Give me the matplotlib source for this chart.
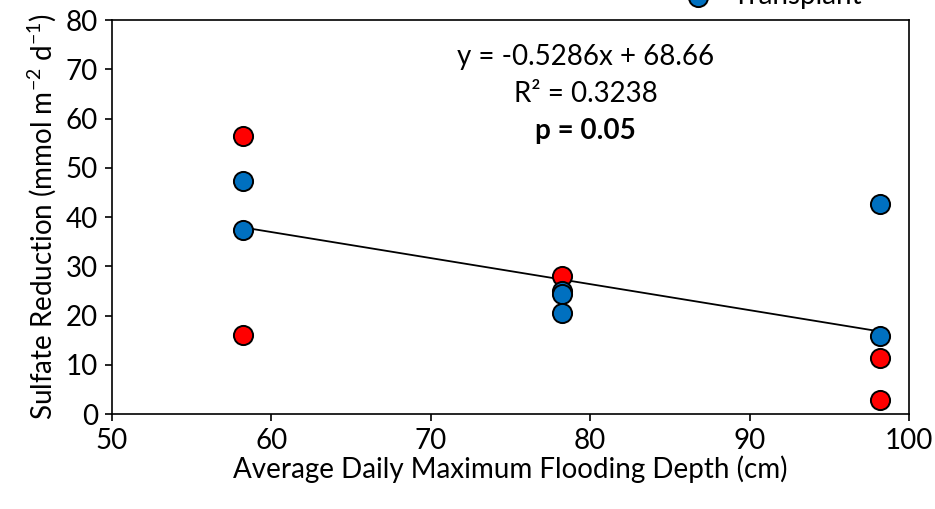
import matplotlib.pyplot as plt
import numpy as np

plt.rcParams['font.family'] = ['Lato', 'DejaVu Sans']
plt.rcParams['mathtext.default'] = 'regular'

# flooding depth (cm) and sulfate reduction values
x_control = [58.2, 58.2, 78.2, 98.2, 98.2]
y_control = [56.5, 16.0, 28.0, 11.3, 2.9]
x_transplant = [58.2, 58.2, 78.2, 78.2, 78.2, 98.2, 98.2]
y_transplant = [47.3, 37.4, 25.0, 24.4, 20.5, 42.7, 15.8]

slope = -0.5286
intercept = 68.66
fit_x = [58.2, 98.2]

fs = 20

fig = plt.figure(figsize=(9.35, 5.09), dpi=100)
ax = fig.add_axes([0.1198, 0.1866, 0.8524, 0.7741])

fx = np.array(fit_x)
ax.plot(fx, slope * fx + intercept, color='black', lw=1.3, zorder=2)
h1 = ax.scatter(x_control, y_control, s=190, c='#FF0000', edgecolors='black',
                linewidths=1.4, zorder=3, label='Control')
h2 = ax.scatter(x_transplant, y_transplant, s=190, c='#0070C0', edgecolors='black',
                linewidths=1.4, zorder=4, label='Transplant')

ax.set_xlim(50, 100)
ax.set_ylim(0, 80)
ax.set_xticks(range(50, 101, 10))
ax.set_yticks(range(0, 81, 10))
ax.tick_params(direction='out', length=5, width=1.2, labelsize=fs, colors='black', pad=5)
for sp in ax.spines.values():
    sp.set_linewidth(1.2)

ax.set_xlabel('Average Daily Maximum Flooding Depth (cm)', fontsize=fs, labelpad=1)
ax.set_ylabel('Sulfate Reduction (mmol m$^{-2}$ d$^{-1}$)', fontsize=fs, labelpad=6)

ax.text(79.7, 72.5, 'y = -0.5286x + 68.66', ha='center', va='center', fontsize=fs)
ax.text(79.7, 65.0, 'R² = 0.3238', ha='center', va='center', fontsize=fs)
ax.text(79.7, 57.4, 'p = 0.05', ha='center', va='center', fontsize=fs, fontweight='bold')

# legend sits mostly above the canvas, only the last entry peeks in
fig.legend(handles=[h1, h2], loc='lower left', bbox_to_anchor=(0.7316, 0.982),
           frameon=False, fontsize=fs, handlelength=1.0, handletextpad=0.75,
           borderpad=0, borderaxespad=0)

fig.savefig('out.png', dpi=100)
